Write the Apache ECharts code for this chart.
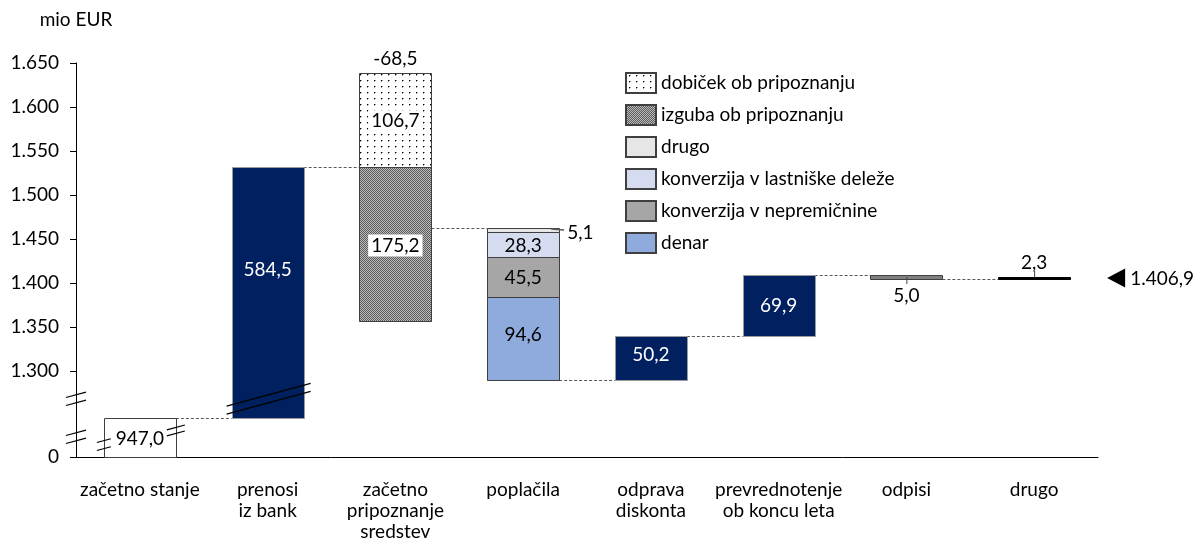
<!DOCTYPE html>
<html><head><meta charset="utf-8">
<script src="https://cdn.jsdelivr.net/npm/echarts@6/dist/echarts.min.js"></script>
<style>html,body{margin:0;padding:0;background:#fff}#c{width:1196px;height:548px}</style>
</head><body><div id="c"></div>
<script>
// ---------- data ----------
const categories = ['začetno stanje', 'prenosi\niz bank', 'začetno\npripoznanje\nsredstev', 'poplačila', 'odprava\ndiskonta', 'prevrednotenje\nob koncu leta', 'odpisi', 'drugo'];
const startValue = 947.0;
const transfersFromBanks = 584.5;
const recognitionGain = 106.7;
const recognitionLoss = -175.2;
const recognitionNet = -68.5;
const repaymentNames = ['drugo', 'konverzija v lastniške deleže', 'konverzija v nepremičnine', 'denar'];
const repaymentValues = [-5.1, -28.3, -45.5, -94.6];
const discountUnwinding = 50.2;
const revaluation = 69.9;
const writeOffs = -5.0;
const otherChanges = 2.3;
const endValue = 1406.9;
const yTickValues = [0, 1300, 1350, 1400, 1450, 1500, 1550, 1600, 1650];
const legendNames = ['dobiček ob pripoznanju', 'izguba ob pripoznanju', 'drugo', 'konverzija v lastniške deleže', 'konverzija v nepremičnine', 'denar'];

// ---------- scale with axis break ----------
const AXIS_MAX = 1650;
const BREAK_TOP = 1280;    // axis is continuous above this value
const LABEL_FLOOR = 1300;  // lowest labelled value above the break
const AXIS_MIN = 1202.3;   // axis position of real 0
const START_POS = 1246.6;  // axis position of the starting level
function toAxis(v) {
  if (v >= BREAK_TOP) return v;
  if (v <= startValue) return AXIS_MIN + v / startValue * (START_POS - AXIS_MIN);
  return START_POS + (v - startValue) / (BREAK_TOP - startValue) * (BREAK_TOP - START_POS);
}
const r1 = v => Math.round(v * 10) / 10;
function fmt(v, dec) {
  if (dec === undefined) dec = 1;
  const s = Math.abs(v).toFixed(dec);
  let parts = s.split('.');
  let intp = parts[0].replace(/\B(?=(\d{3})+(?!\d))/g, '.');
  return (v < 0 ? '-' : '') + intp + (parts[1] ? ',' + parts[1] : '');
}

// cumulative levels
const lvl0 = startValue;
const lvl1 = r1(lvl0 + transfersFromBanks);
const lvl2 = r1(lvl1 + recognitionNet);
const repSegs = [];
let cur = lvl2;
repaymentValues.forEach(v => { repSegs.push([r1(cur + v), cur]); cur = r1(cur + v); });
const lvl3 = cur;
const lvl4 = r1(lvl3 + discountUnwinding);
const lvl5 = r1(lvl4 + revaluation);
const lvl6 = r1(lvl5 + writeOffs);
const lvl7 = r1(lvl6 + otherChanges);
const levels = [lvl0, lvl1, lvl2, lvl3, lvl4, lvl5, lvl6, lvl7];

// ---------- styles ----------
const FONT_FAMILY = 'Lato, "Noto Sans", sans-serif';
const FONT = '19px ' + FONT_FAMILY;
const BAR_W = 72;
const NAVY = '#002060';

function makeCanvas(w, h, draw) {
  const c = document.createElement('canvas');
  c.width = w; c.height = h;
  draw(c.getContext('2d'));
  return c;
}
const dotPattern = { image: makeCanvas(7, 6, ctx => {
  ctx.fillStyle = '#fff'; ctx.fillRect(0, 0, 7, 6);
  ctx.fillStyle = '#000'; ctx.fillRect(3, 2, 1, 1);
  ctx.fillStyle = '#9a9a9a'; ctx.fillRect(4, 2, 1, 1); ctx.fillRect(3, 3, 1, 1);
}), repeat: 'repeat' };
const checkPattern = { image: makeCanvas(2, 2, ctx => {
  ctx.fillStyle = '#b8b8b8'; ctx.fillRect(0, 0, 2, 2);
  ctx.fillStyle = '#5e5e5e'; ctx.fillRect(0, 0, 1, 1); ctx.fillRect(1, 1, 1, 1);
}), repeat: 'repeat' };

function rectSeries(name, items, labels, st) {
  return {
    type: 'custom', name: name, coordinateSystem: 'cartesian2d',
    itemStyle: { color: st.fill, borderColor: st.stroke, borderWidth: 1 },
    data: items,
    z: 3,
    renderItem: function (params, api) {
      const i = api.value(0), lo = api.value(1), hi = api.value(2);
      const top = api.coord([i, toAxis(hi)]);
      const bot = api.coord([i, toAxis(lo)]);
      const x = Math.round(top[0] - BAR_W / 2) + 0.5;
      const children = [{
        type: 'rect',
        shape: { x: x, y: Math.round(top[1]) + 0.5, width: BAR_W, height: Math.max(1, Math.round(bot[1]) - Math.round(top[1])) },
        style: { fill: st.fill, stroke: st.stroke, lineWidth: st.lw || 1 }
      }];
      const lab = labels && labels[params.dataIndex];
      if (lab) {
        const loA = hi > LABEL_FLOOR ? toAxis(Math.max(lo, LABEL_FLOOR)) : toAxis(lo);
        const mid = api.coord([i, (loA + toAxis(hi)) / 2]);
        const ts = { text: lab, fill: st.labelColor || '#000', font: FONT, align: 'center', verticalAlign: 'middle' };
        if (st.labelBg) { ts.backgroundColor = st.labelBg; ts.padding = [2, 3, 1, 3]; }
        children.push({ type: 'text', x: top[0], y: mid[1] + 1, style: ts, z2: 10 });
      }
      return { type: 'group', children: children };
    }
  };
}

const series = [];

// connectors
series.push({
  type: 'custom', name: 'povezave', coordinateSystem: 'cartesian2d', z: 1,
  data: levels.slice(0, 7).map((v, i) => [i, v]),
  renderItem: function (params, api) {
    const i = api.value(0), v = api.value(1);
    const a = api.coord([i, toAxis(v)]);
    const b = api.coord([i + 1, toAxis(v)]);
    const y = Math.round(a[1]) + 0.5;
    return { type: 'line', shape: { x1: a[0] + BAR_W / 2, y1: y, x2: b[0] - BAR_W / 2, y2: y },
      style: { stroke: '#595959', lineWidth: 1, lineDash: [3, 2] } };
  }
});

series.push(rectSeries('začetno stanje', [[0, 0, startValue]], [fmt(startValue)], { fill: '#fff', stroke: '#3f3f3f' }));
series.push(rectSeries('navy', [[1, lvl0, lvl1], [4, lvl3, lvl4], [5, lvl4, lvl5]],
  [fmt(transfersFromBanks), fmt(discountUnwinding), fmt(revaluation)], { fill: NAVY, stroke: '#9a9a9a', labelColor: '#fff' }));
series.push(rectSeries(legendNames[0], [[2, lvl1, r1(lvl1 + recognitionGain)]], [fmt(recognitionGain)], { fill: dotPattern, stroke: '#3f3f3f', labelBg: '#fff' }));
series.push(rectSeries(legendNames[1], [[2, r1(lvl1 + recognitionLoss), lvl1]], [fmt(-recognitionLoss)], { fill: checkPattern, stroke: '#3f3f3f', labelBg: '#fff' }));
const repColors = ['#e6e6e6', '#d6dcf0', '#a6a6a6', '#8faadc'];
repaymentNames.forEach((n, k) => {
  series.push(rectSeries(n, [[3, repSegs[k][0], repSegs[k][1]]], [k === 0 ? '' : fmt(-repaymentValues[k])], { fill: repColors[k], stroke: '#3f3f3f' }));
});
series.push(rectSeries('odpisi', [[6, lvl6, lvl5]], null, { fill: '#808080', stroke: '#404040' }));
series.push(rectSeries('drugo (sprememba)', [[7, lvl6, lvl7]], null, { fill: '#000', stroke: '#000' }));

// external labels
const externalLabels = [
  { cat: 2, value: r1(lvl1 + recognitionGain), text: fmt(recognitionNet), pos: 'top' },
  { cat: 3, value: lvl2, text: fmt(-repaymentValues[0]), pos: 'right' },
  { cat: 6, value: lvl6, text: fmt(-writeOffs), pos: 'bottom', leader: true },
  { cat: 7, value: lvl7, text: fmt(otherChanges), pos: 'top', leader: true }
];
series.push({
  type: 'custom', name: 'oznake', coordinateSystem: 'cartesian2d', z: 5,
  data: externalLabels.map(e => [e.cat, e.value]),
  renderItem: function (params, api) {
    const e = externalLabels[params.dataIndex];
    const p = api.coord([api.value(0), toAxis(api.value(1))]);
    const ch = [];
    if (e.pos === 'top') {
      ch.push({ type: 'text', x: p[0], y: p[1] - 5, style: { text: e.text, font: FONT, fill: '#000', align: 'center', verticalAlign: 'bottom' } });
      if (e.leader) ch.push({ type: 'line', shape: { x1: p[0] + 0.5, y1: p[1], x2: p[0] + 0.5, y2: p[1] - 6 }, style: { stroke: '#404040', lineWidth: 1 } });
    } else if (e.pos === 'bottom') {
      ch.push({ type: 'text', x: p[0], y: p[1] + 7, style: { text: e.text, font: FONT, fill: '#000', align: 'center', verticalAlign: 'top' } });
      if (e.leader) ch.push({ type: 'line', shape: { x1: p[0] + 0.5, y1: p[1] - 2, x2: p[0] + 0.5, y2: p[1] + 5 }, style: { stroke: '#404040', lineWidth: 1 } });
    } else {
      const xr = p[0] + BAR_W / 2;
      ch.push({ type: 'line', shape: { x1: xr - 8, y1: p[1] + 1.5, x2: xr + 5, y2: p[1] + 2.5 }, style: { stroke: '#595959', lineWidth: 1.5 } });
      ch.push({ type: 'text', x: xr + 8, y: p[1] + 5, style: { text: e.text, font: FONT, fill: '#000', align: 'left', verticalAlign: 'middle' } });
    }
    return { type: 'group', children: ch };
  }
});

// axis break marks (placed at real values inside the compressed ranges)
const breakMarks = [
  { cat: 0, at: 'axis', value: 1165, half: 10, gap: 8 },
  { cat: 0, at: 'axis', value: 490, half: 10, gap: 8 },
  { cat: 0, at: 'left', value: 300, half: 7, gap: 8 },
  { cat: 0, at: 'right', value: 645, half: 9, gap: 6 },
  { cat: 1, at: 'span', value: 1165, half: 42, gap: 8 }
];
series.push({
  type: 'custom', name: 'prelomi', coordinateSystem: 'cartesian2d', z: 6,
  data: breakMarks.map(b => [b.cat, b.value]),
  renderItem: function (params, api) {
    const b = breakMarks[params.dataIndex];
    const p = api.coord([api.value(0), toAxis(api.value(1))]);
    const band = api.size([1, 0])[0];
    let cx = p[0];
    if (b.at === 'axis') cx = p[0] - band / 2;
    else if (b.at === 'left') cx = p[0] - BAR_W / 2;
    else if (b.at === 'right') cx = p[0] + BAR_W / 2;
    else cx = p[0] + 1;
    const s = 0.27, h = b.half, cy = p[1];
    const mk = (dy) => ({ type: 'line', shape: { x1: cx - h, y1: cy + dy + h * s, x2: cx + h, y2: cy + dy - h * s }, style: { stroke: '#000', lineWidth: 1.2 } });
    return { type: 'group', children: [mk(-b.gap / 2), mk(b.gap / 2)] };
  }
});

// end-value marker
series.push({
  type: 'custom', name: 'končno stanje', coordinateSystem: 'cartesian2d', z: 6,
  data: [[categories.length - 1, endValue]],
  renderItem: function (params, api) {
    const p = api.coord([api.value(0), toAxis(api.value(1))]);
    const tip = p[0] + BAR_W / 2 + 37;
    const y = p[1] + 1;
    return { type: 'group', children: [
      { type: 'polygon', shape: { points: [[tip, y], [tip + 18, y - 9.5], [tip + 18, y + 9.5]] }, style: { fill: '#000' } },
      { type: 'text', x: tip + 23, y: y + 1, style: { text: fmt(endValue), font: FONT, fill: '#000', align: 'left', verticalAlign: 'middle' } }
    ] };
  }
});

const tickPositions = yTickValues.map(toAxis);

const chart = echarts.init(document.getElementById('c'), null, { renderer: 'canvas' });
chart.setOption({
  animation: false,
  backgroundColor: '#fff',
  textStyle: { fontFamily: FONT_FAMILY },
  grid: { left: 76, right: 98, top: 63, bottom: 91, containLabel: false, outerBoundsMode: 'none' },
  legend: {
    data: legendNames, orient: 'vertical', left: 620, top: 67,
    itemWidth: 30, itemHeight: 20, itemGap: 10, icon: 'rect', selectedMode: false,
    textStyle: { fontSize: 19, fontFamily: FONT_FAMILY, color: '#000', lineHeight: 20 }
  },
  xAxis: {
    type: 'category', data: categories,
    axisLine: { show: true, lineStyle: { color: '#000', width: 1 } },
    axisTick: { show: false },
    axisLabel: { color: '#000', fontSize: 19, lineHeight: 21, margin: 22, fontFamily: FONT_FAMILY, interval: 0 },
    splitLine: { show: false }
  },
  yAxis: {
    type: 'value', min: AXIS_MIN, max: AXIS_MAX,
    name: 'mio EUR', nameLocation: 'end', nameGap: 34,
    nameTextStyle: { color: '#000', fontSize: 19, fontFamily: FONT_FAMILY, align: 'center' },
    axisLine: { show: true, lineStyle: { color: '#000', width: 1 } },
    axisTick: { show: true, length: 6, lineStyle: { color: '#000' }, customValues: tickPositions },
    axisLabel: {
      color: '#000', fontSize: 19, margin: 17, fontFamily: FONT_FAMILY, showMinLabel: true,
      customValues: tickPositions,
      formatter: function (val) {
        let best = 0, bd = Infinity;
        tickPositions.forEach((t, k) => { const d = Math.abs(t - val); if (d < bd) { bd = d; best = k; } });
        return fmt(yTickValues[best], 0);
      }
    },
    splitLine: { show: false }
  },
  series: series
});
</script>
</body></html>
